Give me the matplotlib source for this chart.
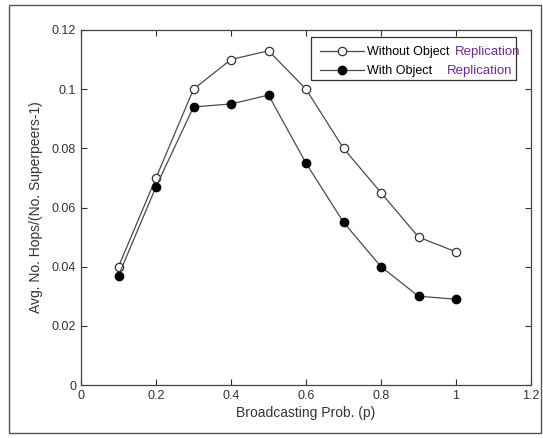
import matplotlib.pyplot as plt
from matplotlib.patches import Rectangle
from matplotlib.transforms import IdentityTransform

# ---- Data ----
prob = [0.1, 0.2, 0.3, 0.4, 0.5, 0.6, 0.7, 0.8, 0.9, 1.0]
without_repl = [0.040, 0.070, 0.100, 0.110, 0.113, 0.100, 0.080, 0.065, 0.050, 0.045]
with_repl = [0.037, 0.067, 0.094, 0.095, 0.098, 0.075, 0.055, 0.040, 0.030, 0.029]

x_ticks = [0, 0.2, 0.4, 0.6, 0.8, 1.0, 1.2]
x_labels = ['0', '0.2', '0.4', '0.6', '0.8', '1', '1.2']
y_ticks = [0, 0.02, 0.04, 0.06, 0.08, 0.10, 0.12]
y_labels = ['0', '0.02', '0.04', '0.06', '0.08', '0.1', '0.12']

legend_base = ['Without Object', 'With Object']
legend_tail = 'Replication'

plt.rcParams['font.family'] = ['Liberation Sans', 'DejaVu Sans']

W, H = 543, 438
fig = plt.figure(figsize=(W / 100, H / 100), dpi=100)
ax = fig.add_axes([81 / W, 1 - 385 / H, 450 / W, 355 / H])
pix = IdentityTransform()

# outer frame around the figure
fig.patches.append(Rectangle((9 / W, 5 / H), 532 / W, 428 / H,
                             transform=fig.transFigure, fill=False,
                             edgecolor='#555555', linewidth=1.0))

line_col = '#4a4a4a'
ax.plot(prob, without_repl, color=line_col, linewidth=0.9, marker='o',
        markersize=6, markerfacecolor='white', markeredgecolor='#333333',
        markeredgewidth=0.9, label=legend_base[0])
ax.plot(prob, with_repl, color=line_col, linewidth=0.9, marker='o',
        markersize=6, markerfacecolor='black', markeredgecolor='black',
        label=legend_base[1])

ax.set_xlim(0, 1.2)
ax.set_ylim(0, 0.12)
ax.set_xticks(x_ticks)
ax.set_xticklabels(x_labels)
ax.set_yticks(y_ticks)
ax.set_yticklabels(y_labels)
ax.tick_params(direction='in', top=True, right=True, length=4,
               labelsize=9, colors='#333333', width=0.8)
for s in ax.spines.values():
    s.set_color('#444444')
    s.set_linewidth(0.9)

ax.set_xlabel('Broadcasting Prob. (p)', fontsize=10, color='#333333', labelpad=3)
ax.set_ylabel('Avg. No. Hops/(No. Superpeers-1)', fontsize=10, color='#333333', labelpad=6)

# legend entries; box drawn separately so the coloured word can overflow it like the original
leg = ax.legend(loc='upper left', bbox_to_anchor=(311, H - 37),
                bbox_transform=pix, borderaxespad=0, fontsize=9,
                frameon=False, borderpad=0.75, handlelength=3.5,
                handletextpad=0.25, labelspacing=0.55)
fig.patches.append(Rectangle((311, H - 80), 205, 43, transform=pix,
                             fill=False, edgecolor='#333333', linewidth=0.9))

fig.canvas.draw()
renderer = fig.canvas.get_renderer()
gaps = [5, 14]
for t, gap in zip(leg.get_texts(), gaps):
    bb = t.get_window_extent(renderer)
    fig.text(bb.x1 + gap, bb.y0, legend_tail, fontsize=9.5,
             color='#6a2c8c', va='bottom', ha='left', transform=pix)

fig.savefig('out.png', dpi=100)
